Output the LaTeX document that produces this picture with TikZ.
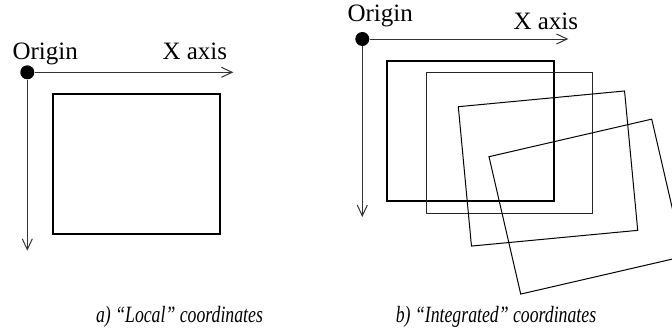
\documentclass[tikz,border=0pt]{standalone}
\usepackage{fontspec}
\setmainfont{Liberation Serif}
\newfontfamily\capfont[FakeStretch=0.76]{Liberation Serif}
\usetikzlibrary{arrows.meta}
\begin{document}
\begin{tikzpicture}[x=0.75pt,y=-0.75pt,
  axis/.style={line width=0.75pt, draw=black!80, -{Straight Barb[length=8pt,width=7.5pt]}},
  dot/.style={circle, fill=black, minimum size=10.5pt, inner sep=0pt},
  axlabel/.style={anchor=base west, inner sep=0pt, font=\fontsize{18.75pt}{20pt}\selectfont},
  caption/.style={anchor=base, inner sep=0pt, font=\capfont\fontsize{17.5pt}{19pt}\selectfont\itshape},
  thickbox/.style={draw=black, line width=1.5pt},
  thinbox/.style={draw=black, line width=0.75pt}]
\useasboundingbox (0,0) rectangle (672,332);
\clip (0,0) rectangle (672,332);

% ---- a) local coordinates ----
\node[dot] (oa) at (27.3,72.3) {};
\coordinate (xa) at (233.3,72.3);
\coordinate (ya) at (27.3,250.7);
\draw[axis] (oa) -- (xa);
\draw[axis] (oa) -- (ya);
\node[axlabel] (origa) at (12.3,59.3) {Origin};
\node[axlabel] (xlaba) at (162.3,60) {X axis};
\draw[thickbox] (53,94) rectangle (220,234);
\node[caption] (capa) at (179.5,322) {a) “Local” coordinates};

% ---- b) integrated coordinates ----
\node[dot] (ob) at (362.3,39) {};
\coordinate (xb) at (568.3,39);
\coordinate (yb) at (362.3,217);
\draw[axis] (ob) -- (xb);
\draw[axis] (ob) -- (yb);
\node[axlabel] (origb) at (347.3,21.7) {Origin};
\node[axlabel] (xlabb) at (513.3,29.3) {X axis};

\draw[thickbox] (387.3,60.7) rectangle (554,200.7);
\draw[thinbox, draw=black!85] (426,72.7) rectangle (592.7,213.3);
\begin{scope}[shift={(458.3,106.7)}, rotate=5.4]
  \draw[thinbox] (0,0) rectangle (167,140);
\end{scope}
\begin{scope}[shift={(489,156.7)}, rotate=13]
  \draw[thinbox] (0,0) rectangle (167,141);
\end{scope}
\node[caption] (capb) at (496,322) {b) “Integrated” coordinates};
\end{tikzpicture}
\end{document}
